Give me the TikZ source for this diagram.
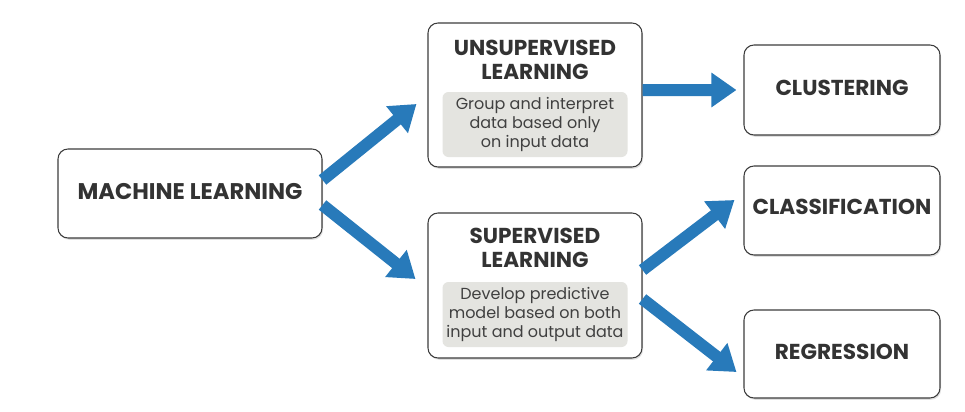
\documentclass[tikz,border=0pt]{standalone}
\usepackage{fontspec}
\setmainfont{Poppins}
\usetikzlibrary{positioning, arrows.meta, shadows}

\definecolor{flowblue}{RGB}{40,122,186}
\definecolor{descgray}{RGB}{228,228,224}
\definecolor{boxline}{RGB}{60,60,60}

\begin{document}
\begin{tikzpicture}[
    flow/.style={draw=flowblue, line width=0.24cm, -{Triangle[width=0.66cm, length=0.5cm]}},
    box/.style={draw=boxline, fill=white, rounded corners=0.2cm, line width=0.6pt,
        drop shadow={shadow xshift=0.6pt, shadow yshift=-1pt, opacity=0.25}},
    title/.style={font=\fontsize{12.3}{13.6}\selectfont\bfseries, text=black!80, align=center, inner sep=0pt},
    desc/.style={fill=descgray, rounded corners=0.12cm, minimum width=3.7cm, minimum height=1.3cm,
        font=\fontsize{9.1}{11}\selectfont, text=black!75, align=center, inner sep=0pt}
]

\useasboundingbox (0,0) rectangle (19.3,-8.22);

% Boxes
\node[box, minimum width=5.28cm, minimum height=1.78cm] (ml) at (3.8,-3.87) {};
\node[title, font=\fontsize{12.9}{13}\selectfont\bfseries] at ([yshift=0.03cm]ml.center) {MACHINE LEARNING};

\node[box, minimum width=4.28cm, minimum height=2.88cm] (unsup) at (10.7,-1.9) {};
\node[title] (unsup-t) at ([yshift=-0.74cm]unsup.north) {UNSUPERVISED\\LEARNING};
\node[desc] (unsup-d) at ([yshift=-0.59cm]unsup.center) {Group and interpret\\data based only\\on input data};

\node[box, minimum width=4.28cm, minimum height=2.9cm] (sup) at (10.7,-5.71) {};
\node[title] (sup-t) at ([yshift=-0.71cm]sup.north) {SUPERVISED\\LEARNING};
\node[desc] (sup-d) at ([yshift=-0.58cm]sup.center) {Develop predictive\\model based on both\\input and output data};

\node[box, minimum width=3.92cm, minimum height=1.8cm] (clus) at (16.84,-1.8) {};
\node[title] at ([yshift=0.04cm]clus.center) {CLUSTERING};

\node[box, minimum width=3.92cm, minimum height=1.78cm] (class) at (16.84,-4.21) {};
\node[title] at ([yshift=0.07cm]class.center) {CLASSIFICATION};

\node[box, minimum width=3.92cm, minimum height=1.76cm] (reg) at (16.84,-7.08) {};
\node[title] at ([yshift=0.04cm]reg.center) {REGRESSION};

% Arrows
\draw[flow] ([yshift=0.27cm]ml.east) -- ([xshift=-0.22cm, yshift=-0.18cm]unsup.west);
\draw[flow] ([yshift=-0.23cm]ml.east) -- ([xshift=-0.24cm, yshift=0.13cm]sup.west);
\draw[flow] ([yshift=0.1cm]unsup.east) -- ([xshift=-0.14cm]clus.west);
\draw[flow] ([yshift=0.31cm]sup.east) -- ([xshift=-0.18cm, yshift=0.21cm]class.west);
\draw[flow] ([yshift=-0.27cm]sup.east) -- ([xshift=-0.14cm, yshift=-0.36cm]reg.west);

\end{tikzpicture}
\end{document}
